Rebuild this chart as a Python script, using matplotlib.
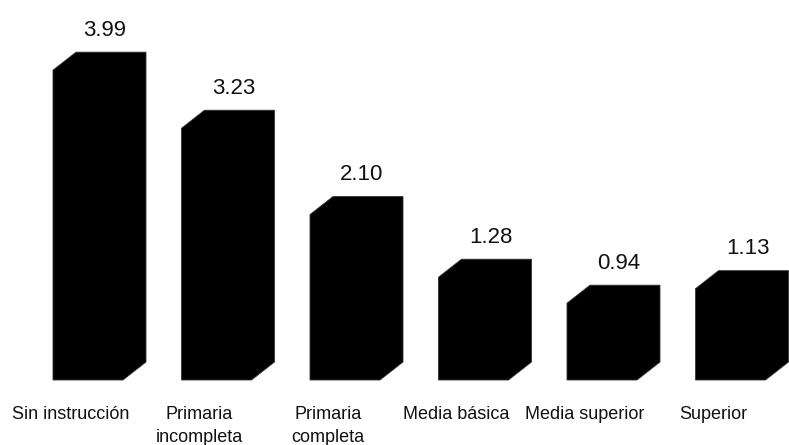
import matplotlib
matplotlib.use("Agg")
import matplotlib.pyplot as plt
from matplotlib.patches import Polygon

categories = ["Sin instrucción", "Primaria\nincompleta", "Primaria\ncompleta",
              "Media básica", "Media superior", "Superior"]
values = [3.99, 3.23, 2.10, 1.28, 0.94, 1.13]
value_labels = ["3.99", "3.23", "2.10", "1.28", "0.94", "1.13"]

plt.rcParams['font.family'] = ['Liberation Sans', 'DejaVu Sans']

fig = plt.figure(figsize=(7.89, 4.45), dpi=100)
ax = fig.add_axes([0, 0, 1, 1])
px_x = 128.5   # pixels per category unit
px_y = 76.4    # pixels per value unit
ax.set_xlim(-53 / px_x, (789 - 53) / px_x)
ax.set_ylim(-70 / px_y, (445 - 70) / px_y)
ax.axis("off")

w = 70 / px_x
dx = 23 / px_x
dy = 18 / px_y
base = -5 / px_y

for i, v in enumerate(values):
    xl, xr = i, i + w
    verts = [(xl, base), (xr, base), (xr + dx, base + dy), (xr + dx, v + dy),
             (xl + dx, v + dy), (xl, v)]
    ax.add_patch(Polygon(verts, closed=True, facecolor="black",
                         edgecolor="#333333", linewidth=0.6))
    ax.text(i + 52 / px_x, v + dy + 22 / px_y, value_labels[i],
            ha="center", va="center", fontsize=16, color="#111111")
    ax.text(i + 18 / px_x, (375 - 406) / px_y, categories[i],
            ha="center", va="top", fontsize=13, color="#111111",
            linespacing=1.5)

fig.savefig("out.png", dpi=100)
